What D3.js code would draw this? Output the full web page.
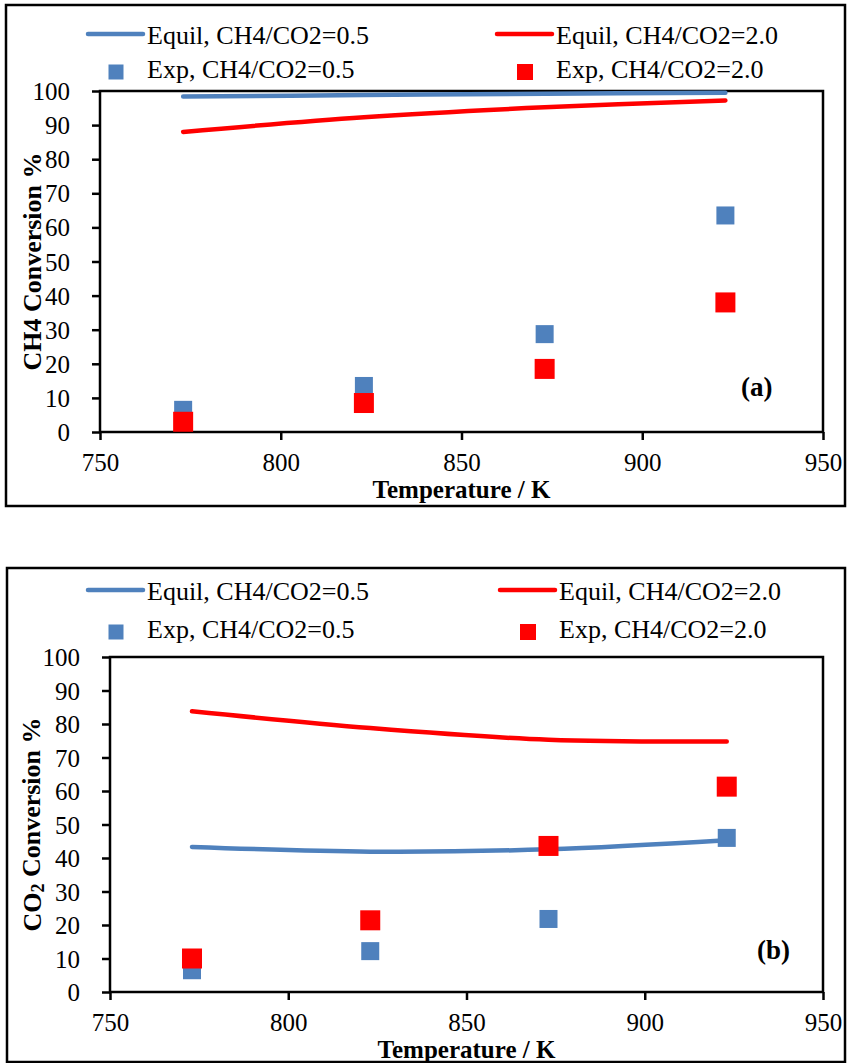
<!DOCTYPE html>
<html>
<head>
<meta charset="utf-8">
<script src="https://cdn.jsdelivr.net/npm/d3@7"></script>
<style>
  body { margin: 0; background: #fff; }
  svg text { font-family: "Liberation Serif", "Times New Roman", serif; fill: #000; }
</style>
</head>
<body>
<svg id="chart" width="849" height="1063"></svg>
<script>
// temperatures (K) at which everything was measured / computed
var temps = [773, 823, 873, 923];

// panel (a) CH4 conversion %
var ch4Equil05 = [98.4, 98.8, 99.2, 99.5];
var ch4Equil20 = [88.0, 92.3, 95.2, 97.2];
var ch4Exp05 = [6.5, 13.5, 28.7, 63.5];
var ch4Exp20 = [3.0, 8.5, 18.5, 38.0];

// panel (b) CO2 conversion %
var co2Equil05 = [43.3, 41.9, 42.6, 45.3];
var co2Equil20 = [83.8, 78.8, 75.3, 74.8];
var co2Exp05 = [6.5, 12.2, 21.8, 46.0];
var co2Exp20 = [10.0, 21.4, 43.6, 61.3];

var xTicks = [750, 800, 850, 900, 950];
var yTicks = [0, 10, 20, 30, 40, 50, 60, 70, 80, 90, 100];
var legendLabels = ["Equil, CH4/CO2=0.5", "Equil, CH4/CO2=2.0", "Exp, CH4/CO2=0.5", "Exp, CH4/CO2=2.0"];

var blue = "#4f81bd", red = "#ff0000";

var svg = d3.select("#chart");

function zip(xs, ys) {
    return xs.map(function(x, i) { return {t: x, v: ys[i]}; });
}

var drawPanel = function(p) {
    var g = svg.append("g");

    // outer frame
    g.append("rect")
        .attr("x", p.frame[0]).attr("y", p.frame[1])
        .attr("width", p.frame[2] - p.frame[0]).attr("height", p.frame[3] - p.frame[1])
        .attr("fill", "none").attr("stroke", "#000").attr("stroke-width", 2.5);

    var x = d3.scaleLinear().domain([750, 950]).range([p.left, p.right]);
    var y = d3.scaleLinear().domain([0, 100]).range([p.bottom, p.top]);

    // legend
    var lg = g.append("g").attr("class", "legend");
    var cols = [p.legX[0], p.legX[1]];
    [blue, red].forEach(function(c, i) {
        lg.append("line")
            .attr("x1", cols[i]).attr("x2", cols[i] + 55)
            .attr("y1", p.legY[0]).attr("y2", p.legY[0])
            .attr("stroke", c).attr("stroke-width", 4.5).attr("stroke-linecap", "round");
        lg.append("text")
            .attr("x", cols[i] + 59).attr("y", p.legY[0] + 10)
            .style("font-size", "26px")
            .text(legendLabels[i]);
        var s = i == 0 ? 15 : 16;
        lg.append("rect")
            .attr("x", cols[i] + 28 - s / 2).attr("y", p.legY[1] - s / 2)
            .attr("width", s).attr("height", s)
            .attr("fill", c);
        lg.append("text")
            .attr("x", cols[i] + 59).attr("y", p.legY[1] + 6)
            .style("font-size", "26px")
            .text(legendLabels[i + 2]);
    });

    // axes
    var xa = g.append("g")
        .attr("transform", "translate(0," + p.bottom + ")")
        .call(d3.axisBottom(x).tickValues(xTicks).tickSize(8).tickSizeOuter(0));
    xa.selectAll("text").attr("y", 39).attr("dy", 0).style("font-size", "25px");

    var ya = g.append("g")
        .attr("transform", "translate(" + p.left + ",0)")
        .call(d3.axisLeft(y).tickValues(yTicks).tickSize(8).tickSizeOuter(0).tickPadding(22));
    ya.selectAll("text").attr("dy", "0.34em").style("font-size", "25px");

    g.selectAll(".domain").remove();
    g.selectAll(".tick line").attr("stroke", "#000").attr("stroke-width", 2.5);

    g.append("rect")
        .attr("x", p.left).attr("y", p.top)
        .attr("width", p.right - p.left).attr("height", p.bottom - p.top)
        .attr("fill", "none").attr("stroke", "#000").attr("stroke-width", 2.5);

    // equilibrium curves (smoothed like the spreadsheet)
    var line = d3.line()
        .x(function(d) { return x(d.t); })
        .y(function(d) { return y(d.v); })
        .curve(d3.curveCatmullRom.alpha(0));

    [[p.equil05, blue], [p.equil20, red]].forEach(function(s) {
        g.append("path")
            .datum(zip(temps, s[0]))
            .attr("d", line)
            .attr("fill", "none")
            .attr("stroke", s[1])
            .attr("stroke-width", 4.5)
            .attr("stroke-linecap", "round");
    });

    // experimental points
    [[p.exp05, blue, 18], [p.exp20, red, 20]].forEach(function(s) {
        g.selectAll(null)
            .data(zip(temps, s[0]))
            .enter().append("rect")
            .attr("x", function(d) { return x(d.t) - s[2] / 2; })
            .attr("y", function(d) { return y(d.v) - s[2] / 2; })
            .attr("width", s[2]).attr("height", s[2])
            .attr("fill", s[1]);
    });

    // titles
    g.append("text")
        .attr("x", (p.left + p.right) / 2).attr("y", p.bottom + 66)
        .attr("text-anchor", "middle")
        .style("font-size", "25px").style("font-weight", "bold")
        .text("Temperature / K");

    var yt = g.append("text")
        .attr("transform", "translate(41," + (p.top + p.bottom) / 2 + ") rotate(-90)")
        .attr("text-anchor", "middle")
        .style("font-size", "26px").style("font-weight", "bold");
    p.yTitle(yt);

    g.append("text")
        .attr("x", p.tag[0]).attr("y", p.tag[1])
        .style("font-size", "27px").style("font-weight", "bold")
        .text(p.tagText);
};

drawPanel({
    frame: [6, 5, 845, 506],
    left: 100, right: 823, top: 91, bottom: 432,
    legX: [88, 497], legY: [34, 72],
    equil05: ch4Equil05, equil20: ch4Equil20, exp05: ch4Exp05, exp20: ch4Exp20,
    yTitle: function(t) { t.text("CH4 Conversion %"); },
    tag: [741, 396], tagText: "(a)"
});

drawPanel({
    frame: [7, 568, 845, 1062],
    left: 110, right: 823, top: 657, bottom: 992,
    legX: [88, 500], legY: [590, 632],
    equil05: co2Equil05, equil20: co2Equil20, exp05: co2Exp05, exp20: co2Exp20,
    yTitle: function(t) {
        t.append("tspan").text("CO");
        t.append("tspan").style("font-size", "18px").attr("dy", "0.15em").text("2");
        t.append("tspan").attr("dy", "-0.15em").text(" Conversion %");
    },
    tag: [757, 959], tagText: "(b)"
});
</script>
</body>
</html>
